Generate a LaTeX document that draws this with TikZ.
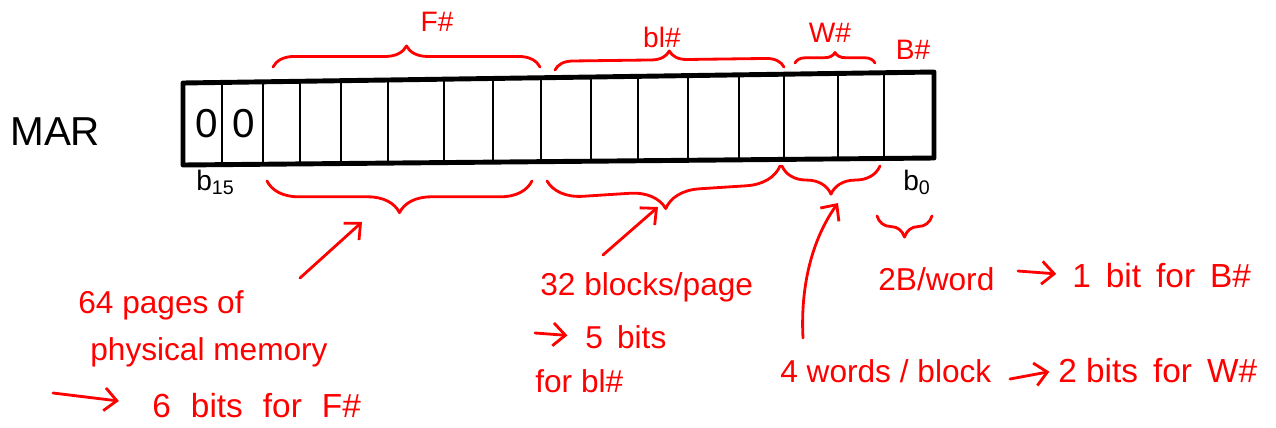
\documentclass[tikz,border=0pt]{standalone}
\usepackage{fontspec}
\setmainfont{Liberation Sans}
\usetikzlibrary{arrows.meta,decorations.pathreplacing}
\newcommand\gap{\hspace{0.45em}}
\newcommand\wgap{\hspace{0.6em}}

\begin{document}
\begin{tikzpicture}[x=0.02cm,y=-0.02cm,
  hand/.style={red,line width=1.6pt,line cap=round,line join=round},
  arr/.style={hand,-{Straight Barb[length=7pt,width=13pt]}},
  brc/.style={hand,decorate,decoration={brace,amplitude=#1}},
  txt/.style={red,anchor=base west,inner sep=0pt,font=\fontsize{18}{22}\selectfont},
  lbl/.style={red,inner sep=0pt,font=\fontsize{16}{20}\selectfont},
  big/.style={inner sep=0pt,font=\fontsize{23}{26}\selectfont}]
  \useasboundingbox (0,0) rectangle (1276,427);
  % le registre
  \draw[line width=2.8pt,line join=round]
     (183,83) -- (934,72) -- (934,158) -- (183,165) -- cycle;
  \foreach \x in {222,263,300,341,388,444,493,541,591,638,688,739,784,838,884}{
    \pgfmathsetmacro\yt{83-11*(\x-183)/751}
    \pgfmathsetmacro\yb{165-7*(\x-183)/751}
    \draw[line width=1pt] (\x,\yt) -- (\x,\yb);
  }
  \node[big,anchor=base west] (mar) at (10,145) {MAR};
  \node[big] (z1) at (207,124) {0};
  \node[big] (z2) at (244,124) {0};
  \node[anchor=base west,inner sep=0pt,font=\fontsize{16}{20}\selectfont] (b15) at (196,190) {b\textsubscript{15}};
  \node[anchor=base west,inner sep=0pt,font=\fontsize{16}{20}\selectfont] (b0) at (903,190) {b\textsubscript{0}};
  % champs au-dessus
  \draw[brc=12pt] (273,67) -- (540,67); % F#
  \draw[brc=10pt] (555,70) -- (784,67); % bl#
  \draw[brc=6pt] (795,63) -- (875,63); % W#
  \node[lbl] (ftop) at (437,22) {F\#};
  \node[lbl] (bltop) at (662,37) {bl\#};
  \node[lbl] (wtop) at (830,33) {W\#};
  \node[lbl] (btop) at (913,50) {B\#};
  % champs au-dessous
  \draw[brc=18pt] (532,181) -- (267,181); % F#
  \draw[brc=20pt] (780,166) -- (547,181); % bl#
  \draw[brc=16pt] (880,166) -- (782,166); % W#
  \draw[brc=12pt] (932,216) -- (877,216); % B#
  % explications
  \node[txt] (pg1) at (78,313) {64 pages of};
  \node[txt] (pg2) at (90,360) {physical memory};
  \node[txt,font=\fontsize{19}{22}\selectfont] (pg3) at (152,417) {6\wgap bits\wgap for\wgap F\#};
  \node[txt] (bk1) at (540,295) {32 blocks/page};
  \node[txt] (bk2) at (585,348) {5\gap bits};
  \node[txt] (bk3) at (535,392) {for bl\#};
  \node[txt] (wd1) at (878,290) {2B/word};
  \node[txt,font=\fontsize{19}{22}\selectfont] (wd2) at (1072,287) {1\gap bit\gap for\gap B\#};
  \node[txt] (bw1) at (780,382) {4 words / block};
  \node[txt,font=\fontsize{19}{22}\selectfont] (bw2) at (1058,382) {2 bits\gap for\gap W\#};
  % fleches
  \coordinate (fs) at (300,278);
  \coordinate (ftip) at (362,222);
  \coordinate (bs) at (603,255);
  \coordinate (btip) at (658,207);
  \coordinate (ws) at (803,338);
  \coordinate (wtip) at (838,203);
  \draw[arr] (fs) -- (ftip);
  \draw[arr] (bs) -- (btip);
  \draw[arr] (ws) .. controls (800,280) and (815,235) .. (wtip);
  \coordinate (pgs) at (53,393);
  \coordinate (bks) at (535,333);
  \coordinate (wds) at (1018,271);
  \coordinate (bws) at (1010,379);
  \draw[arr,shorten >=19pt] (pgs) -- (pg3.west);
  \draw[arr,shorten >=10pt] (bks) -- (bk2.west);
  \draw[arr,shorten >=9pt] (wds) -- (wd2.west);
  \draw[arr,shorten >=5pt] (bws) -- (bw2.west);
\end{tikzpicture}
\end{document}
